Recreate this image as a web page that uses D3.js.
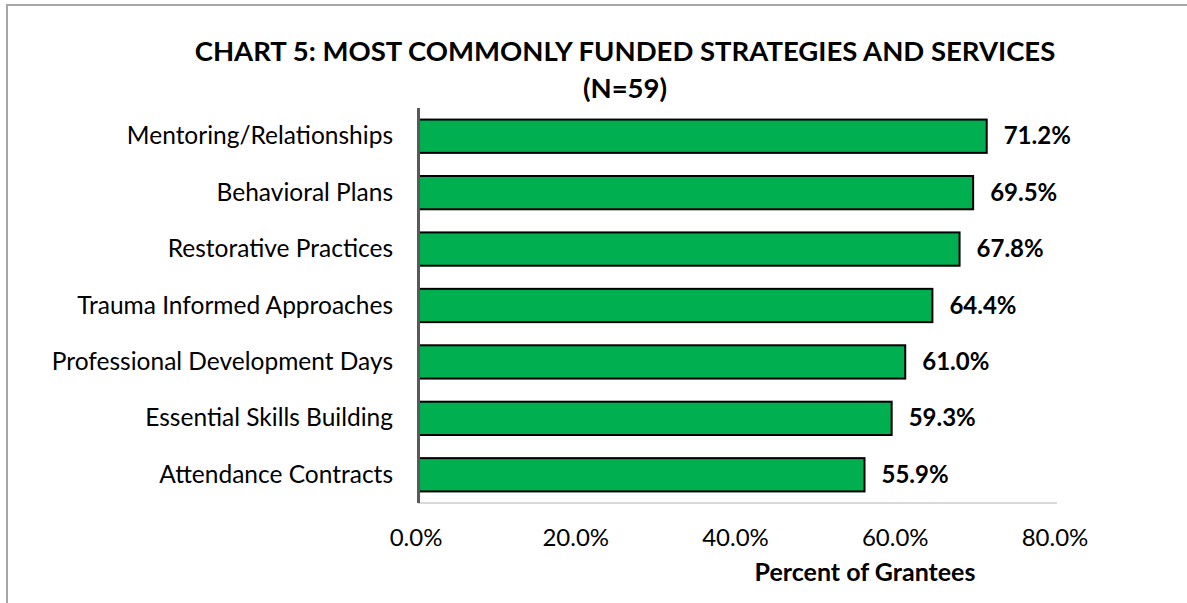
<!DOCTYPE html>
<html>
<head>
<meta charset="utf-8">
<script src="https://cdn.jsdelivr.net/npm/d3@7"></script>
<style>
  html, body { margin: 0; padding: 0; background: #fff; }
  svg { display: block; }
</style>
</head>
<body>
<div id="chart"></div>
<script>
// data, top to bottom as shown
const categories = [
  "Mentoring/Relationships",
  "Behavioral Plans",
  "Restorative Practices",
  "Trauma Informed Approaches",
  "Professional Development Days",
  "Essential Skills Building",
  "Attendance Contracts"
];
const percents = [71.2, 69.5, 67.8, 64.4, 61.0, 59.3, 55.9];
const xTicks = [0, 20, 40, 60, 80];
const titleLines = ["CHART 5: MOST COMMONLY FUNDED STRATEGIES AND SERVICES", "(N=59)"];
const xAxisTitle = "Percent of Grantees";

const width = 1187, height = 603;
const font = "Lato, 'Open Sans', sans-serif";

const svg = d3.select("#chart").append("svg")
    .attr("width", width)
    .attr("height", height);

// outer chart frame (only top and left edges visible)
svg.append("path")
    .attr("d", `M7,${height} L7,5 L${width},5`)
    .attr("fill", "none")
    .attr("stroke", "#a6a6a6")
    .attr("stroke-width", 2);

// title
svg.append("g").selectAll("text")
    .data(titleLines)
    .join("text")
    .attr("x", 625)
    .attr("y", (d, i) => 61 + i * 37)
    .attr("text-anchor", "middle")
    .attr("font-family", font)
    .attr("font-weight", "bold")
    .attr("font-size", "27.5px")
    .attr("fill", "#000")
    .text(d => d);

// scales
const x = d3.scaleLinear().domain([0, 80]).range([418, 1057]);
const y = d3.scaleBand()
    .domain(categories)
    .range([108, 503])
    .paddingInner(0.41)
    .paddingOuter(0.205);

const rows = categories.map((c, i) => ({ cat: c, val: percents[i] }));

// horizontal axis line
svg.append("line")
    .attr("x1", x(0)).attr("x2", x(80))
    .attr("y1", 503).attr("y2", 503)
    .attr("stroke", "#d9d9d9")
    .attr("stroke-width", 2);

// bars
svg.append("g").selectAll("rect")
    .data(rows)
    .join("rect")
    .attr("x", x(0))
    .attr("y", d => y(d.cat))
    .attr("width", d => x(d.val) - x(0))
    .attr("height", y.bandwidth())
    .attr("fill", "#00b050")
    .attr("stroke", "#000")
    .attr("stroke-width", 2);

// vertical axis line
svg.append("line")
    .attr("x1", 418.5).attr("x2", 418.5)
    .attr("y1", 108).attr("y2", 503)
    .attr("stroke", "#595959")
    .attr("stroke-width", 3);

// category labels
svg.append("g").selectAll("text")
    .data(rows)
    .join("text")
    .attr("x", 393)
    .attr("y", d => y(d.cat) + y.bandwidth() / 2 + 8)
    .attr("text-anchor", "end")
    .attr("font-family", font)
    .attr("font-size", "24.5px")
    .attr("fill", "#000")
    .text(d => d.cat);

// value labels
svg.append("g").selectAll("text")
    .data(rows)
    .join("text")
    .attr("x", d => x(d.val) + 17)
    .attr("y", d => y(d.cat) + y.bandwidth() / 2 + 8)
    .attr("font-family", font)
    .attr("font-weight", "bold")
    .attr("font-size", "24px")
    .attr("fill", "#000")
    .text(d => d.val.toFixed(1) + "%");

// x tick labels
svg.append("g").selectAll("text")
    .data(xTicks)
    .join("text")
    .attr("x", d => x(d) - 2)
    .attr("y", 546)
    .attr("text-anchor", "middle")
    .attr("font-family", font)
    .attr("font-size", "24px")
    .attr("fill", "#000")
    .text(d => d.toFixed(1) + "%");

// x axis title
svg.append("text")
    .attr("x", 865)
    .attr("y", 581)
    .attr("text-anchor", "middle")
    .attr("font-family", font)
    .attr("font-weight", "bold")
    .attr("font-size", "25px")
    .attr("fill", "#000")
    .text(xAxisTitle);
</script>
</body>
</html>
